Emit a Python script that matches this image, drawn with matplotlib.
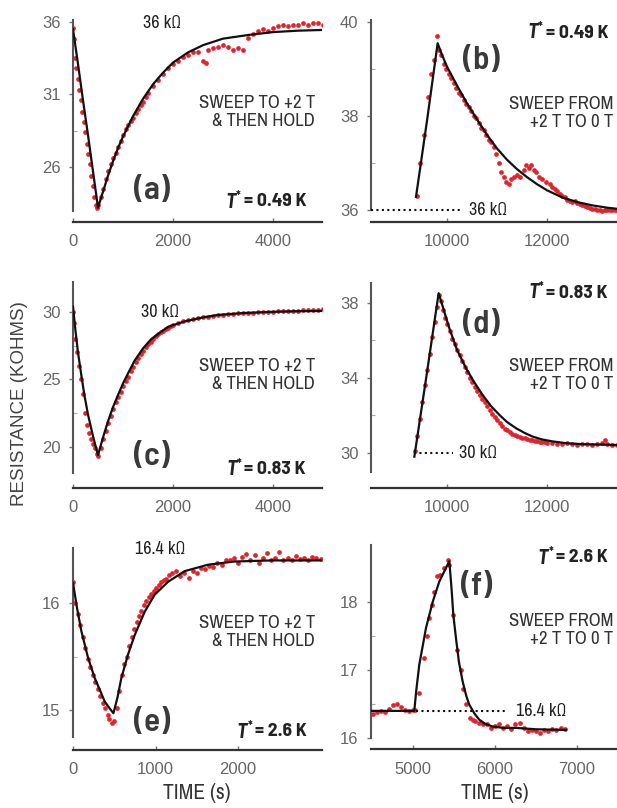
import matplotlib
matplotlib.use('Agg')
import matplotlib.pyplot as plt
from matplotlib.font_manager import FontProperties
from matplotlib.ticker import FixedLocator

# ---------------- data ----------------
# (a) sweep to +2 T & hold, T* = 0.49 K
a_pts_t = [0, 10, 30, 60, 90, 120, 150, 180, 210, 240, 270, 300, 330, 360, 390, 420, 450, 480, 500,
           550, 600, 650, 700, 750, 800, 850, 900, 950, 1000, 1050, 1100, 1150, 1200, 1250, 1300, 1350,
           1400, 1450, 1500, 1600, 1700, 1800, 1900, 2000, 2100, 2200, 2300, 2400, 2500, 2600, 2650,
           2700, 2800, 2900, 3000, 3100, 3200, 3300, 3400, 3500, 3600, 3700, 3800, 3900, 4000, 4100,
           4200, 4300, 4400, 4500, 4600, 4700, 4800, 4900, 5000]
a_pts_r = [35.6, 34.8, 33.5, 32.8, 32.1, 31.3, 30.6, 29.8, 29.1, 28.4, 27.6, 26.9, 26.2, 25.4, 24.7, 23.9, 23.4, 23.2, 23.4,
           23.9, 24.5, 25.2, 25.7, 26.2, 26.6, 27.0, 27.4, 27.8, 28.2, 28.6, 28.9, 29.2, 29.4, 29.7, 30.0, 30.3,
           30.5, 30.8, 31.1, 31.6, 32.0, 32.4, 32.8, 33.1, 33.3, 33.6, 33.7, 33.9, 33.9, 33.3, 33.2,
           34.1, 34.2, 34.3, 34.4, 34.3, 34.1, 34.2, 34.1, 34.9, 35.2, 35.4, 35.5, 35.4, 35.6, 35.7,
           35.8, 35.7, 35.8, 35.8, 35.9, 35.8, 35.9, 35.9, 35.8]
a_fit_t = [0, 100, 200, 300, 400, 500, 600, 700, 800, 900, 1000, 1200, 1400, 1600, 1800, 2000, 2300,
           2600, 3000, 3500, 4000, 4500, 5000]
a_fit_r = [35.5, 33.1, 30.6, 28.2, 25.7, 23.2, 24.3, 25.4, 26.4, 27.3, 28.1, 29.5, 30.7, 31.7, 32.5, 33.2,
           33.9, 34.4, 34.85, 35.1, 35.3, 35.4, 35.45]

# (b) sweep from +2 T to 0 T, T* = 0.49 K
b_pts_t = [9400, 9450, 9530, 9610, 9680, 9740, 9790, 9840, 9880, 9930, 9980, 10030, 10080, 10130, 10180,
           10230, 10280, 10330, 10380, 10430, 10480, 10530, 10580, 10630, 10680, 10730, 10780, 10830,
           10880, 10930, 10980, 11030, 11080, 11130, 11180, 11230, 11280, 11330, 11400, 11450, 11530,
           11580, 11630, 11680, 11730, 11780, 11830, 11900, 11980, 12050, 12100, 12150, 12200, 12250,
           12300, 12350, 12400, 12450, 12500, 12550, 12600, 12650, 12700, 12750, 12800, 12850, 12900,
           12950, 13000, 13050, 13100, 13150, 13200, 13250, 13300, 13350, 13400]
b_pts_r = [36.3, 37.0, 37.6, 38.4, 38.9, 39.2, 39.7, 39.4, 39.3, 39.1, 39.0, 38.9, 38.8, 38.7, 38.6,
           38.5, 38.45, 38.35, 38.25, 38.2, 38.1, 38.0, 37.95, 37.85, 37.75, 37.7, 37.6, 37.5,
           37.45, 37.35, 37.2, 37.0, 36.8, 36.7, 36.6, 36.55, 36.65, 36.7, 36.75, 36.7, 36.85,
           36.95, 36.9, 36.95, 36.85, 36.8, 36.7, 36.65, 36.6, 36.55, 36.5, 36.45, 36.4, 36.35,
           36.3, 36.28, 36.22, 36.2, 36.18, 36.2, 36.15, 36.12, 36.1, 36.08, 36.06, 36.05, 36.03,
           36.02, 36.0, 36.0, 35.98, 36.0, 36.0, 35.99, 36.0, 36.0, 36.0]
b_fit_t = [9380, 9600, 9813, 9900, 10000, 10200, 10400, 10600, 10800, 11000, 11200, 11400, 11600, 11800,
           12000, 12300, 12600, 12900, 13200, 13450]
b_fit_r = [36.28, 37.9, 39.55, 39.3, 39.05, 38.65, 38.27, 37.93, 37.6, 37.31, 37.07, 36.87, 36.7, 36.55,
           36.42, 36.27, 36.17, 36.1, 36.05, 36.02]

# (c) sweep to +2 T & hold, T* = 0.83 K
c_pts_t = [0, 20, 40, 70, 110, 150, 190, 230, 270, 310, 350, 390, 430, 470, 500,
           550, 600, 650, 700, 750, 800, 850, 900, 950, 1000, 1050, 1100, 1150, 1200, 1250, 1300, 1350,
           1400, 1450, 1500, 1550, 1600, 1650, 1700, 1750, 1800, 1850, 1900, 1950, 2000, 2100, 2200,
           2300, 2400, 2500, 2600, 2700, 2800, 2900, 3000, 3100, 3200, 3300, 3400, 3500, 3600, 3700,
           3800, 3900, 4000, 4100, 4200, 4300, 4400, 4500, 4600, 4700, 4800, 4900, 5000]
c_pts_r = [30.0, 29.2, 28.0, 27.0, 26.0, 25.0, 23.9, 22.5, 21.6, 21.0, 20.6, 20.2, 19.9, 19.5, 19.3,
           19.9, 20.6, 21.2, 21.8, 22.3, 22.8, 23.3, 23.7, 24.1, 24.5, 24.9, 25.2, 25.6, 25.9, 26.3, 26.6, 26.9,
           27.1, 27.4, 27.6, 27.8, 28.0, 28.2, 28.35, 28.5, 28.6, 28.75, 28.85, 28.95, 29.05, 29.2, 29.3,
           29.4, 29.5, 29.55, 29.6, 29.65, 29.7, 29.75, 29.8, 29.82, 29.85, 29.9, 29.92, 29.95, 29.95, 29.98,
           30.0, 30.0, 30.02, 30.05, 30.05, 30.08, 30.1, 30.1, 30.12, 30.15, 30.12, 30.15, 30.2]
c_fit_t = [0, 50, 100, 167, 230, 300, 400, 500, 600, 700, 800, 900, 1000, 1100, 1233, 1400, 1567, 1750,
           1900, 2233, 2600, 2900, 3400, 3900, 4400, 5000]
c_fit_r = [30.4, 28.6, 27.0, 25.3, 23.8, 22.4, 20.8, 19.4, 20.7, 21.9, 22.95, 23.85, 24.7, 25.45, 26.4,
           27.3, 28.0, 28.5, 28.9, 29.3, 29.6, 29.78, 29.92, 30.0, 30.05, 30.08]

# (d) sweep from +2 T to 0 T, T* = 0.83 K
d_pts_t = [9350, 9400, 9450, 9500, 9550, 9600, 9650, 9700, 9750, 9800, 9830, 9870, 9910, 9950,
           10000, 10050, 10100, 10150, 10200, 10250, 10300, 10350, 10400, 10450, 10500, 10550, 10600,
           10650, 10700, 10750, 10800, 10850, 10900, 10950, 11000, 11050, 11100, 11150, 11200, 11250,
           11300, 11350, 11400, 11450, 11500, 11550, 11600, 11650, 11700, 11750, 11800, 11850, 11900,
           11950, 12000, 12100, 12200, 12300, 12400, 12500, 12600, 12700, 12800, 12900, 13000, 13100,
           13150, 13200, 13300, 13400]
d_pts_r = [30.1, 30.9, 31.8, 32.7, 33.6, 34.4, 35.3, 36.2, 37.0, 37.8, 38.4, 38.1, 37.6, 37.2,
           36.9, 36.5, 36.1, 35.8, 35.5, 35.2, 34.9, 34.6, 34.3, 34.0, 33.8, 33.5, 33.3,
           33.1, 32.9, 32.7, 32.5, 32.3, 32.1, 31.9, 31.75, 31.6, 31.45, 31.3, 31.2, 31.1,
           31.0, 30.95, 30.9, 30.85, 30.8, 30.8, 30.75, 30.7, 30.7, 30.65, 30.65, 30.6, 30.6,
           30.6, 30.55, 30.55, 30.5, 30.5, 30.55, 30.5, 30.45, 30.5, 30.5, 30.45, 30.5, 30.55,
           30.7, 30.5, 30.45, 30.45]
d_fit_t = [9347, 9600, 9833, 9950, 10047, 10200, 10380, 10550, 10713, 10880, 11047, 11200, 11380, 11550,
           11713, 11900, 12100, 12380, 12700, 13000, 13450]
d_fit_r = [29.8, 34.3, 38.52, 37.5, 36.65, 35.5, 34.52, 33.75, 33.09, 32.5, 32.03, 31.65, 31.32, 31.07,
           30.87, 30.72, 30.62, 30.52, 30.47, 30.45, 30.42]

# (e) sweep to +2 T & hold, T* = 2.6 K
e_pts_t = [0, 30, 60, 90, 120, 150, 180, 210, 240, 270, 300, 330, 360, 390, 420, 440, 470, 500, 530,
           560, 590, 620, 650, 680, 710, 740, 770, 800, 830, 860, 890, 920, 950, 980, 1010, 1040, 1070,
           1100, 1130, 1160, 1200, 1250, 1300, 1350, 1400, 1450, 1500, 1550, 1600, 1650, 1700, 1750,
           1800, 1850, 1900, 1950, 2000, 2050, 2100, 2150, 2200, 2250, 2300, 2350, 2400, 2450, 2500,
           2550, 2600, 2650, 2700, 2750, 2800, 2850, 2900, 2950, 3000]
e_pts_r = [16.2, 16.0, 15.9, 15.8, 15.68, 15.58, 15.48, 15.4, 15.33, 15.26, 15.2, 15.13, 15.07, 15.02,
           14.95, 14.92, 14.88, 14.9, 15.02, 15.18, 15.33, 15.43, 15.5, 15.6, 15.68, 15.76, 15.82,
           15.88, 15.93, 15.98, 16.02, 16.06, 16.09, 16.11, 16.14, 16.17, 16.2, 16.22, 16.23, 16.26,
           16.28, 16.3, 16.25, 16.28, 16.24, 16.3, 16.28, 16.33, 16.32, 16.35, 16.34, 16.38, 16.36,
           16.4, 16.4, 16.42, 16.38, 16.43, 16.46, 16.4, 16.45, 16.38, 16.42, 16.47, 16.4, 16.42,
           16.48, 16.4, 16.42, 16.4, 16.44, 16.41, 16.42, 16.4, 16.43, 16.42, 16.41]
e_fit_t = [0, 50, 101, 182, 263, 330, 384, 440, 490, 540, 586, 667, 747, 869, 990, 1152, 1354, 1636,
           1960, 2400, 3000]
e_fit_r = [16.19, 15.95, 15.74, 15.49, 15.3, 15.18, 15.08, 15.02, 14.97, 15.12, 15.3, 15.52, 15.7,
           15.92, 16.08, 16.2, 16.3, 16.36, 16.39, 16.4, 16.4]

# (f) sweep from +2 T to 0 T, T* = 2.6 K
f_pts_t = [4510, 4560, 4610, 4660, 4710, 4760, 4800, 4850, 4900, 4950, 5000, 5030, 5077, 5138, 5170,
           5199, 5230, 5260, 5290, 5330, 5380, 5423, 5443, 5492, 5540, 5585, 5606, 5650, 5700, 5728,
           5760, 5800, 5850, 5900, 5950, 6000, 6050, 6100, 6150, 6200, 6250, 6300, 6350, 6400, 6450,
           6500, 6550, 6600, 6650, 6700, 6750, 6800, 6850]
f_pts_r = [16.35, 16.38, 16.4, 16.38, 16.43, 16.48, 16.5, 16.45, 16.42, 16.4, 16.42, 16.42, 16.66,
           17.18, 17.5, 17.76, 17.95, 18.15, 18.38, 18.4, 18.5, 18.62, 18.55, 17.81, 17.3, 17.0, 16.72,
           16.5, 16.3, 16.27, 16.25, 16.22, 16.2, 16.2, 16.15, 16.18, 16.2, 16.15, 16.18, 16.14, 16.2,
           16.22, 16.15, 16.1, 16.12, 16.1, 16.08, 16.12, 16.1, 16.13, 16.12, 16.15, 16.14]
f_fit_t = [4490, 4800, 5016, 5040, 5077, 5159, 5240, 5321, 5443, 5470, 5492, 5524, 5560, 5606, 5650,
           5687, 5750, 5809, 5880, 5972, 6100, 6256, 6500, 6866]
f_fit_r = [16.4, 16.4, 16.4, 16.7, 17.08, 17.62, 18.0, 18.3, 18.6, 18.2, 17.81, 17.47, 17.12, 16.83,
           16.62, 16.49, 16.36, 16.27, 16.21, 16.17, 16.15, 16.15, 16.13, 16.12]

panel_labels = ['(a)', '(b)', '(c)', '(d)', '(e)', '(f)']
temps = ['0.49', '0.49', '0.83', '0.83', '2.6', '2.6']
ref_labels = ['36 k\u03a9', '36 k\u03a9', '30 k\u03a9', '30 k\u03a9', '16.4 k\u03a9', '16.4 k\u03a9']
ref_values = [36, 36, 30, 30, 16.4, 16.4]
hold_text = 'SWEEP TO +2 T\n& THEN HOLD'
from_text = 'SWEEP FROM\n+2 T TO 0 T'
y_label = 'RESISTANCE (KOHMS)'
x_label = 'TIME (s)'

xticks = [[0, 2000, 4000], [10000, 12000], [0, 2000, 4000], [10000, 12000], [0, 1000, 2000],
          [5000, 6000, 7000]]
yticks = [[26, 31, 36], [36, 38, 40], [20, 25, 30], [30, 34, 38], [15, 16], [16, 17, 18]]
yminor = [[28.5, 33.5], [37, 39], [22.5, 27.5], [32, 36], [15.5], [16.5, 17.5]]

# ---------------- fonts ----------------
NARROW = ['Archivo Narrow', 'Barlow Semi Condensed', 'DejaVu Sans']
BOLDC = ['Barlow Semi Condensed', 'Archivo Narrow', 'DejaVu Sans']
REG = ['Liberation Sans', 'DejaVu Sans']


def fnt(size, family=NARROW, weight='normal', style='normal'):
    return FontProperties(family=family, size=size, weight=weight, style=style)


# ---------------- styling ----------------
W, H = 617, 808
RED = '#e3222b'

fig = plt.figure(figsize=(W / 100, H / 100), dpi=100)
fig.patch.set_facecolor('white')


def px(x, y):
    return x / W, 1 - y / H


boxes = [(73, 15, 322, 222), (371, 15, 617, 222),
         (73, 275, 322, 488), (371, 275, 617, 488),
         (73, 538, 322, 750), (371, 538, 617, 749)]
xlims = [(0, 4980), (8480, 13400), (0, 4980), (8480, 13400), (0, 3018), (4488, 7488)]
ylims = [(22.21, 36.48), (35.745, 40.15), (16.96, 32.74), (28.13, 39.49), (14.626, 16.61), (15.84, 18.94)]
ybounds = [(23.0, 36.15), (36.0, 40.05), (18.1, 32.2), (29.0, 39.07), (14.75, 16.52), (16.0, 18.84)]

pts = [(a_pts_t, a_pts_r), (b_pts_t, b_pts_r), (c_pts_t, c_pts_r), (d_pts_t, d_pts_r),
       (e_pts_t, e_pts_r), (f_pts_t, f_pts_r)]
fits = [(a_fit_t, a_fit_r), (b_fit_t, b_fit_r), (c_fit_t, c_fit_r), (d_fit_t, d_fit_r),
        (e_fit_t, e_fit_r), (f_fit_t, f_fit_r)]

axes = []
for i in range(6):
    l, t, r, b = boxes[i]
    ax = fig.add_axes([l / W, 1 - b / H, (r - l) / W, (b - t) / H])
    ax.set_facecolor('none')
    ax.plot(pts[i][0], pts[i][1], 'o', ms=3.4, color=RED, mec='none', zorder=2)
    ax.plot(fits[i][0], fits[i][1], '-', color='#111111', lw=1.6, zorder=3)
    ax.set_xlim(*xlims[i])
    ax.set_ylim(*ylims[i])
    for s in ['top', 'right']:
        ax.spines[s].set_visible(False)
    ax.spines['left'].set_bounds(*ybounds[i])
    ax.spines['left'].set_color('#555555')
    ax.spines['left'].set_linewidth(1.5)
    ax.spines['bottom'].set_color('#333333')
    ax.spines['bottom'].set_linewidth(1.6)
    ax.xaxis.set_major_locator(FixedLocator(xticks[i]))
    ax.yaxis.set_major_locator(FixedLocator(yticks[i]))
    ax.yaxis.set_minor_locator(FixedLocator(yminor[i]))
    ax.tick_params(axis='y', which='major', direction='out', length=3, width=1, color='#777777',
                   labelsize=12, labelcolor='#666666', pad=6)
    ax.tick_params(axis='y', which='minor', direction='in', length=3, width=0.8, color='#aaaaaa')
    ax.tick_params(axis='x', which='major', direction='in', length=3, width=1, color='#777777',
                   labelsize=12, labelcolor='#666666', pad=9)
    for lab in ax.get_xticklabels() + ax.get_yticklabels():
        lab.set_family(REG)
    axes.append(ax)

# dotted reference lines in the right-hand panels
ref_lines = {1: (8480, 10320), 3: (9340, 10120), 5: (5040, 6134)}
for i, (x0, x1) in ref_lines.items():
    axes[i].plot([x0, x1], [ref_values[i], ref_values[i]], color='#111111', lw=1.5,
                 linestyle=(0, (1, 1.6)), zorder=4)
    axes[i].text(x1 + 120, ref_values[i], ref_labels[i], color='#222222',
                 ha='left', va='center', fontproperties=fnt(13))

# reference labels in left panels
for i, (x, y) in {0: (162, 23), 2: (160, 312), 4: (160, 549)}.items():
    fig.text(*px(x, y), ref_labels[i], color='#222222', ha='center', va='center',
             fontproperties=fnt(13))

# sweep descriptions
for i, (x, y) in {0: (315, 112), 1: (613, 113), 2: (315, 375), 3: (613, 375), 4: (315, 632),
                  5: (613, 630)}.items():
    fig.text(*px(x, y), hold_text if i % 2 == 0 else from_text,
             color='#333333', ha='right', va='center', multialignment='right', linespacing=1.1,
             fontproperties=fnt(13.5))

# panel letters
for i, (x, y) in {0: (152, 190), 1: (481, 60), 2: (152, 457), 3: (481, 325), 4: (152, 723),
                  5: (477, 587)}.items():
    fig.text(*px(x, y), panel_labels[i], color='#3a3a3a', ha='center', va='center',
             fontproperties=fnt(24, BOLDC, weight=600))

# temperatures: "T* = x K" right-aligned at given pixel
fig.canvas.draw()
renderer = fig.canvas.get_renderer()
for i, (x, y) in {0: (306, 202), 1: (608, 33), 2: (306, 470), 3: (608, 293), 4: (307, 732),
                  5: (608, 558)}.items():
    rest = fig.text(*px(x, y), '= ' + temps[i] + ' K', color='#222222', ha='right',
                    va='center', fontproperties=fnt(14, BOLDC, weight='bold'))
    bb = rest.get_window_extent(renderer)
    star = fig.text((bb.x0 - 3) / W, 1 - (y - 1) / H, '*', color='#222222', ha='right',
                    va='bottom', fontproperties=fnt(9, BOLDC, weight='bold'))
    sb = star.get_window_extent(renderer)
    fig.text((sb.x0 - 0.5) / W, 1 - y / H, 'T', color='#222222', ha='right', va='center',
             fontproperties=fnt(14.5, BOLDC, weight='bold', style='italic'))

fig.text(*px(20, 404), y_label, rotation=90, fontsize=13.5, family=REG, color='#444444',
         ha='center', va='center')
fig.text(*px(197, 793), x_label, color='#333333', ha='center', va='center',
         fontproperties=fnt(15.5))
fig.text(*px(495, 793), x_label, color='#333333', ha='center', va='center',
         fontproperties=fnt(15.5))

fig.savefig('out.png', dpi=100, facecolor='white')
